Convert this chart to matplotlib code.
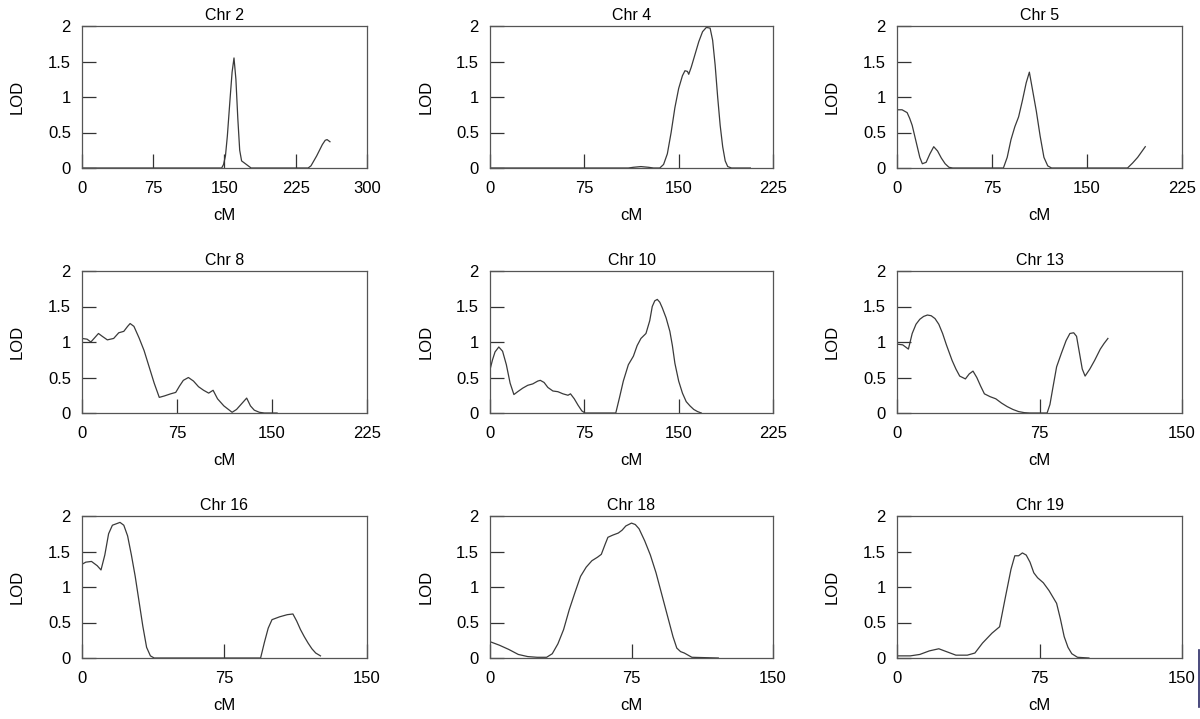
import matplotlib
matplotlib.use('Agg')
import matplotlib.pyplot as plt
from matplotlib.lines import Line2D

plt.rcParams['font.family'] = ['Liberation Sans', 'DejaVu Sans']

# LOD profiles per chromosome (cM, LOD)
chr2_x = [0, 147, 149, 151, 153, 156, 158, 160, 162, 164, 166, 168, 172, 176, 178,
          238, 241, 244, 247, 250, 253, 256, 258, 261]
chr2_y = [0, 0, 0.05, 0.17, 0.45, 1.0, 1.35, 1.55, 1.25, 0.7, 0.25, 0.1, 0.06, 0.02, 0,
          0, 0.03, 0.1, 0.17, 0.25, 0.33, 0.39, 0.4, 0.37]

chr4_x = [0, 110, 114, 120, 126, 130, 135, 138, 141, 144, 147, 150, 153, 155, 157, 158,
          160, 163, 166, 169, 172, 175, 177, 179, 181, 183, 185, 187, 189, 192, 207]
chr4_y = [0, 0, 0.01, 0.02, 0.01, 0, 0, 0.05, 0.2, 0.5, 0.85, 1.12, 1.3, 1.37, 1.36, 1.32,
          1.42, 1.6, 1.78, 1.92, 1.98, 1.97, 1.8, 1.45, 1.0, 0.6, 0.3, 0.1, 0.02, 0, 0]

chr5_x = [0, 4, 8, 10, 12, 14, 16, 18, 20, 23, 26, 29, 32, 35, 38, 41, 44,
          84, 87, 90, 93, 96, 99, 102, 104.5, 107, 110, 113, 116, 119, 122,
          182, 186, 190, 194, 196]
chr5_y = [0.82, 0.82, 0.78, 0.7, 0.6, 0.45, 0.3, 0.15, 0.06, 0.08, 0.2, 0.3, 0.24, 0.14, 0.06, 0.01, 0,
          0, 0.15, 0.4, 0.58, 0.72, 0.95, 1.2, 1.35, 1.1, 0.8, 0.45, 0.15, 0.03, 0,
          0, 0.07, 0.15, 0.25, 0.30]

chr8_x = [0, 4, 7, 10, 13, 16, 20, 25, 29, 33, 36, 38, 41, 45, 49, 53, 57, 61, 65, 70,
          74, 77, 80, 84, 88, 92, 96, 100, 103.5, 107, 112, 118.5, 122, 126, 130, 133,
          136, 140, 144, 154]
chr8_y = [1.05, 1.04, 1.0, 1.06, 1.12, 1.08, 1.03, 1.05, 1.13, 1.15, 1.22, 1.26, 1.22,
          1.06, 0.88, 0.65, 0.42, 0.22, 0.24, 0.27, 0.29, 0.38, 0.46, 0.5, 0.45, 0.37,
          0.32, 0.28, 0.32, 0.2, 0.1, 0.01, 0.05, 0.13, 0.21, 0.1, 0.04, 0.01, 0, 0]

chr10_x = [0, 2, 4, 7, 10, 13, 16, 19, 22, 26, 30, 34, 38, 40, 43, 46, 50, 54, 58, 62,
           64, 67, 70, 73, 75.5, 100, 103, 106, 110, 114, 117, 120, 124, 127, 129, 131,
           133, 135, 137, 140, 143, 145, 147, 150, 153, 156, 159, 162, 165, 168]
chr10_y = [0.61, 0.75, 0.86, 0.93, 0.87, 0.68, 0.42, 0.26, 0.3, 0.35, 0.39, 0.41, 0.45,
           0.46, 0.43, 0.36, 0.31, 0.3, 0.27, 0.25, 0.27, 0.2, 0.11, 0.03, 0, 0, 0.22,
           0.45, 0.68, 0.8, 0.95, 1.05, 1.12, 1.3, 1.5, 1.58, 1.6, 1.56, 1.48, 1.34,
           1.15, 0.95, 0.7, 0.45, 0.28, 0.16, 0.1, 0.05, 0.02, 0]

chr13_x = [0, 3, 6, 8, 10, 12, 14, 16, 18, 20, 22, 24, 26, 29, 31, 33, 36, 38, 40, 42,
           44, 46, 49, 52, 55, 58, 61, 64, 67, 70, 79, 80.5, 82, 84, 86.5, 89, 91, 93,
           94.5, 96, 97.5, 99, 101.5, 104, 107, 109, 111]
chr13_y = [0.97, 0.96, 0.9, 1.12, 1.25, 1.32, 1.36, 1.38, 1.37, 1.33, 1.25, 1.12, 0.96,
           0.74, 0.62, 0.52, 0.48, 0.55, 0.59, 0.5, 0.38, 0.27, 0.23, 0.2, 0.14, 0.09,
           0.05, 0.02, 0.005, 0, 0, 0.12, 0.35, 0.65, 0.84, 1.02, 1.12, 1.13, 1.08, 0.85,
           0.62, 0.52, 0.62, 0.74, 0.9, 0.98, 1.05]

chr16_x = [0, 2, 5, 8, 10, 12, 14, 16, 18, 20, 22, 24, 26, 28, 30, 32, 34, 36, 38,
           94, 96, 98, 100, 104, 108, 111, 113, 115, 117, 119, 121, 123, 125.5]
chr16_y = [1.32, 1.35, 1.36, 1.3, 1.24, 1.45, 1.75, 1.87, 1.89, 1.91, 1.87, 1.72, 1.45,
           1.15, 0.8, 0.45, 0.15, 0.03, 0, 0, 0.22, 0.42, 0.54, 0.58, 0.61, 0.62, 0.52,
           0.4, 0.3, 0.21, 0.13, 0.07, 0.03]

chr18_x = [0, 5, 10, 15, 20, 25, 30, 33, 36, 39, 42, 45, 48, 51, 54, 57, 59, 61, 62.5,
           65, 68, 70, 72, 75, 77, 79, 82, 85, 88, 91, 94, 97, 99, 101, 103, 105, 107, 121]
chr18_y = [0.23, 0.18, 0.12, 0.05, 0.02, 0.01, 0.01, 0.06, 0.2, 0.4, 0.68, 0.92, 1.15,
           1.28, 1.37, 1.42, 1.46, 1.6, 1.7, 1.73, 1.76, 1.8, 1.86, 1.9, 1.88, 1.82, 1.65,
           1.45, 1.2, 0.9, 0.6, 0.3, 0.14, 0.09, 0.07, 0.04, 0.01, 0]

chr19_x = [0, 7, 12, 17, 22, 26, 31, 37, 41, 45, 50, 54, 57, 60, 62, 64, 66, 68, 70, 72,
           74, 77, 80, 84, 86, 88, 90, 92, 95, 101]
chr19_y = [0.03, 0.03, 0.05, 0.1, 0.13, 0.09, 0.04, 0.04, 0.07, 0.21, 0.35, 0.44, 0.85,
           1.25, 1.44, 1.44, 1.48, 1.45, 1.35, 1.2, 1.13, 1.06, 0.95, 0.77, 0.55, 0.3,
           0.15, 0.06, 0.01, 0]

titles = ['Chr 2', 'Chr 4', 'Chr 5', 'Chr 8', 'Chr 10', 'Chr 13', 'Chr 16', 'Chr 18', 'Chr 19']
xs = [chr2_x, chr4_x, chr5_x, chr8_x, chr10_x, chr13_x, chr16_x, chr18_x, chr19_x]
ys = [chr2_y, chr4_y, chr5_y, chr8_y, chr10_y, chr13_y, chr16_y, chr18_y, chr19_y]
xmax = [300, 225, 225, 225, 225, 150, 150, 150, 150]

W, H = 1200, 719
fig = plt.figure(figsize=(W / 100, H / 100), dpi=100)

lefts = [82, 490, 897]
rights = [367, 773, 1182]
tops = [26, 271, 516]
bottoms = [168, 413, 658]

for i in range(9):
    r, c = i // 3, i % 3
    l, rt = lefts[c], rights[c]
    t, b = tops[r], bottoms[r]
    ax = fig.add_axes([l / W, 1 - b / H, (rt - l) / W, (b - t) / H])
    ax.plot(xs[i], ys[i], color='#3a3a3a', linewidth=0.9)
    ax.set_xlim(0, xmax[i])
    ax.set_ylim(0, 2)
    ax.set_xticks(range(0, xmax[i] + 1, 75))
    ax.set_yticks([0, 0.5, 1, 1.5, 2])
    ax.set_yticklabels(['0', '0.5', '1', '1.5', '2'])
    ax.tick_params(direction='in', length=10, width=0.9, color='#333333',
                   labelsize=12, pad=8)
    ax.tick_params(axis='x', pad=9.5)
    for s in ax.spines.values():
        s.set_color('#555555')
        s.set_linewidth(0.9)
    ax.set_title(titles[i], fontsize=11.5, pad=4)
    ax.set_xlabel('cM', fontsize=12)
    ax.set_ylabel('LOD', fontsize=12)
    ax.xaxis.set_label_coords(0.5, -0.285)
    ax.yaxis.set_label_coords(-0.2, 0.5)

# stray edge line in the lower right corner
fig.add_artist(Line2D([1198.5 / W, 1198.5 / W], [1 - 650 / H, 1 - 707 / H],
                      color='#2a2a66', linewidth=1.2))

fig.savefig('out.png', dpi=100)
